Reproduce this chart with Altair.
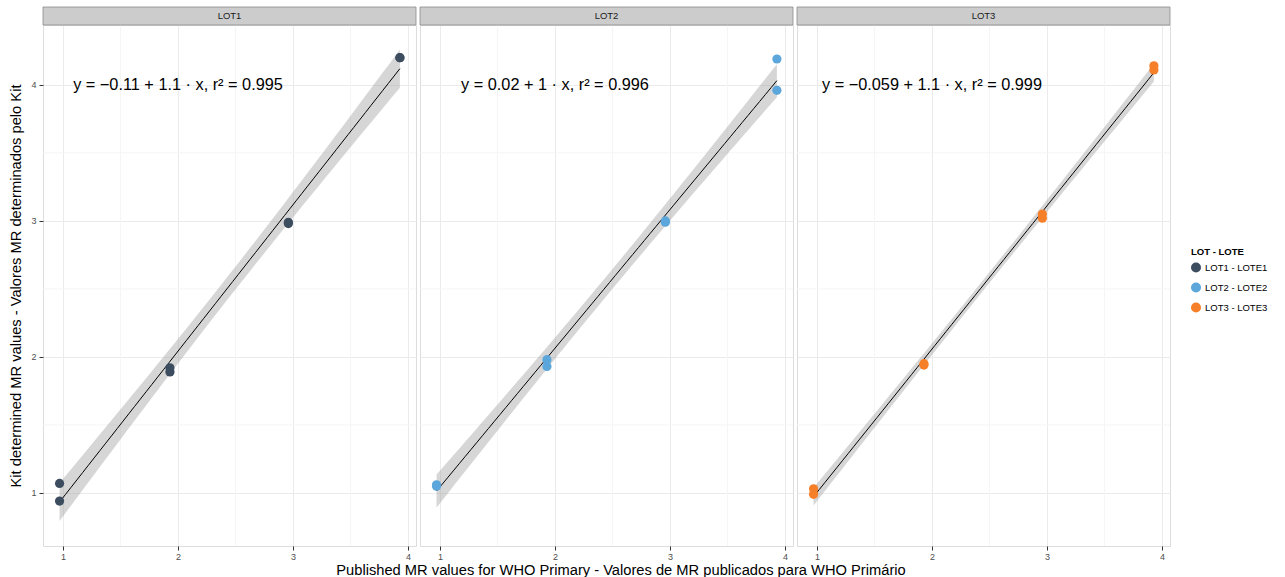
import altair as alt
import numpy as np
import pandas as pd

# ---- data ----
lots = ["LOT1", "LOT2", "LOT3"]
legend_labels = ["LOT1 - LOTE1", "LOT2 - LOTE2", "LOT3 - LOTE3"]
colors = ["#3d4d60", "#5ba6da", "#f6802a"]
x_published = [0.97, 0.97, 1.93, 1.93, 2.96, 2.96, 3.93, 3.93]
y_lot1 = [1.07, 0.94, 1.92, 1.89, 2.98, 2.99, 4.20, 4.20]
y_lot2 = [1.06, 1.05, 1.98, 1.93, 3.00, 2.99, 4.19, 3.96]
y_lot3 = [1.03, 0.99, 1.95, 1.94, 3.05, 3.02, 4.14, 4.11]
y_series = [y_lot1, y_lot2, y_lot3]
equations = [
    "y = \u22120.11 + 1.1 \u00b7 x,  r\u00b2 = 0.995",
    "y = 0.02 + 1 \u00b7 x,  r\u00b2 = 0.996",
    "y = \u22120.059 + 1.1 \u00b7 x,  r\u00b2 = 0.999",
]
eq_pos = [2.0, 4.0]
major_ticks = [1, 2, 3, 4]
minor_ticks = [1.5, 2.5, 3.5]
x_domain = [0.826, 4.07]
y_domain = [0.61, 4.44]

FONT = "Liberation Sans"
W, H = 373, 521
T_975_DF6 = 2.4469  # t quantile for 95% CI with n-2 = 6 df


def fit_band(xs, ys, n=60):
    xs = np.asarray(xs, float)
    ys = np.asarray(ys, float)
    b, a = np.polyfit(xs, ys, 1)
    res = ys - (a + b * xs)
    s = np.sqrt((res ** 2).sum() / (len(xs) - 2))
    sxx = ((xs - xs.mean()) ** 2).sum()
    g = np.linspace(xs.min(), xs.max(), n)
    fit = a + b * g
    se = s * np.sqrt(1 / len(xs) + (g - xs.mean()) ** 2 / sxx)
    return pd.DataFrame({"x": g, "fit": fit, "lo": fit - T_975_DF6 * se, "hi": fit + T_975_DF6 * se})


xs = alt.Scale(domain=x_domain, nice=False, zero=False)
ys = alt.Scale(domain=y_domain, nice=False, zero=False)
cscale = alt.Scale(domain=legend_labels, range=colors)


def panel(i, first, middle):
    pts = pd.DataFrame({"x": x_published, "y": y_series[i], "lot": legend_labels[i]})
    band = fit_band(x_published, y_series[i])

    xaxis = alt.Axis(
        values=major_ticks, format="d", grid=True, gridColor="#ebebeb", domain=False,
        tickColor="#333333", tickSize=4, labelColor="#4d4d4d", labelFontSize=9,
        labelPadding=2, labelFont=FONT,
        title="Published MR values for WHO Primary - Valores de MR publicados para WHO Primário" if middle else None,
        titleFont=FONT, titleFontSize=14.7, titleFontWeight="normal", titleColor="#000000", titlePadding=1,
        titleX=W / 2 + 14,
    )
    if first:
        yaxis = alt.Axis(
            values=major_ticks, format="d", grid=True, gridColor="#ebebeb", domain=False,
            tickColor="#333333", tickSize=4, labelColor="#4d4d4d", labelFontSize=9,
            labelPadding=3, labelFont=FONT,
            title="Kit determined MR values - Valores MR determinados pelo Kit",
            titleFont=FONT, titleFontSize=14.7, titleFontWeight="normal", titleColor="#000000", titlePadding=7,
        )
    else:
        yaxis = alt.Axis(values=major_ticks, grid=True, gridColor="#ebebeb", domain=False,
                         ticks=False, labels=False, title=None)

    vminor = alt.Chart(pd.DataFrame({"v": minor_ticks})).mark_rule(color="#f5f5f5", strokeWidth=1).encode(
        x=alt.X("v:Q", scale=xs, axis=xaxis))
    hminor = alt.Chart(pd.DataFrame({"v": minor_ticks})).mark_rule(color="#f5f5f5", strokeWidth=1).encode(
        y=alt.Y("v:Q", scale=ys, axis=yaxis))

    ribbon = alt.Chart(band).mark_area(color="#999999", opacity=0.4).encode(
        x=alt.X("x:Q", scale=xs), y=alt.Y("lo:Q", scale=ys), y2="hi:Q")
    line = alt.Chart(band).mark_line(color="#000000", strokeWidth=1).encode(
        x=alt.X("x:Q", scale=xs), y=alt.Y("fit:Q", scale=ys))
    points = alt.Chart(pts).mark_circle(size=85, opacity=1).encode(
        x=alt.X("x:Q", scale=xs), y=alt.Y("y:Q", scale=ys),
        color=alt.Color("lot:N", scale=cscale, title="LOT - LOTE",
                        legend=alt.Legend(orient="none", legendX=1148, legendY=222,
                                          symbolType="circle", symbolSize=100, symbolStrokeWidth=0,
                                          titleFontSize=9.5, titleFont=FONT, titleFontWeight="bold",
                                          labelFontSize=9.5, labelFont=FONT, rowPadding=10,
                                          titlePadding=6)))
    eq = alt.Chart(pd.DataFrame({"x": [eq_pos[0]], "y": [eq_pos[1]], "t": [equations[i]]})).mark_text(
        font=FONT, fontSize=16.3, color="#000000", align="center", baseline="middle").encode(
        x=alt.X("x:Q", scale=xs), y=alt.Y("y:Q", scale=ys), text="t:N")

    sd = pd.DataFrame({"lot": [lots[i]]})
    strip = alt.Chart(sd).mark_rect(fill="#cccccc", stroke="#8c8c8c", strokeWidth=0.8).encode(
        x=alt.value(0), x2=alt.value(W), y=alt.value(-18), y2=alt.value(0))
    strip_t = alt.Chart(sd).mark_text(font=FONT, fontSize=9.5, color="#1a1a1a", baseline="middle").encode(
        x=alt.value(W / 2), y=alt.value(-9), text="lot:N")

    return alt.layer(vminor, hminor, ribbon, line, points, eq, strip, strip_t).properties(width=W, height=H)


chart = alt.hconcat(
    panel(0, True, False), panel(1, False, True), panel(2, False, False),
    spacing=4, bounds="flush",
).resolve_scale(color="shared").properties(
    padding={"left": 8, "top": 6, "right": 5, "bottom": 2}
).configure_view(stroke="#9a9a9a", strokeWidth=1).configure(background="white")

chart.save("out.html", embed_options={"renderer": "svg", "actions": False})
